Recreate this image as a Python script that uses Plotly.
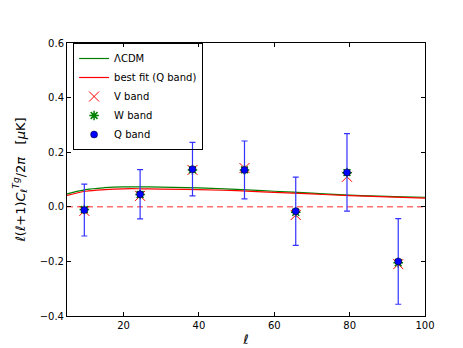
import plotly.graph_objects as go

# multipole bins
ell = [9.6, 24.4, 38.3, 52.1, 65.7, 79.3, 92.9]
q_band = [-0.012, 0.046, 0.138, 0.135, -0.016, 0.126, -0.200]
q_err = [0.095, 0.090, 0.098, 0.106, 0.125, 0.142, 0.157]
v_band = [-0.015, 0.040, 0.135, 0.142, -0.030, 0.110, -0.210]
w_band = [-0.010, 0.045, 0.135, 0.135, -0.020, 0.125, -0.205]

# theory curves
ell_curve = [5, 10, 15, 20, 25, 30, 40, 50, 60, 70, 80, 90, 100]
lcdm = [0.047, 0.063, 0.070, 0.073, 0.073, 0.072, 0.069, 0.064, 0.057, 0.050, 0.043, 0.038, 0.035]
best_fit = [0.042, 0.057, 0.063, 0.066, 0.066, 0.065, 0.063, 0.059, 0.053, 0.047, 0.041, 0.036, 0.032]

fig = go.Figure()

fig.add_trace(go.Scatter(x=ell_curve, y=lcdm, mode='lines', name='\u039bCDM',
                         line=dict(color='#008000', width=1.2, shape='spline')))
fig.add_trace(go.Scatter(x=ell_curve, y=best_fit, mode='lines', name='best fit (Q band)',
                         line=dict(color='#ff0000', width=1.2, shape='spline')))
# zero line
fig.add_trace(go.Scatter(x=[5, 100], y=[0, 0], mode='lines', showlegend=False,
                         line=dict(color='rgba(255,90,90,0.85)', width=1.5, dash='6px,4px')))

fig.add_trace(go.Scatter(x=ell, y=v_band, mode='markers', name='V band',
                         marker=dict(symbol='x-thin', size=10, color='#ff0000',
                                     line=dict(color='#ff0000', width=1))))
fig.add_trace(go.Scatter(x=ell, y=w_band, mode='markers', name='W band',
                         marker=dict(symbol='asterisk', size=8, color='#008000',
                                     line=dict(color='#008000', width=1.5))))
fig.add_trace(go.Scatter(x=ell, y=q_band, mode='markers', name='Q band',
                         error_y=dict(type='data', array=q_err, color='#3333ff',
                                      thickness=1.2, width=3),
                         marker=dict(symbol='circle', size=7, color='#0000ff',
                                     line=dict(color='black', width=0.5))))

axis_style = dict(showline=True, linecolor='black', linewidth=1, mirror='ticks',
                  ticks='inside', ticklen=4, tickcolor='black', showgrid=False,
                  zeroline=False, tickfont=dict(size=10, color='black'))

fig.update_layout(
    template='simple_white',
    width=463, height=348,
    margin=dict(l=57, r=46, t=35, b=35),
    font=dict(family='DejaVu Sans', color='black'),
    xaxis=dict(range=[5, 100], tickvals=[20, 40, 60, 80, 100],
               title=dict(text='<i>\u2113</i>', font=dict(size=13), standoff=4),
               **axis_style),
    yaxis=dict(range=[-0.4, 0.6], tickvals=[-0.4, -0.2, 0.0, 0.2, 0.4, 0.6],
               ticktext=['\u22120.4', '\u22120.2', '0.0', '0.2', '0.4', '0.6'],
               title=dict(text='<i>\u2113</i>(<i>\u2113</i>+1)<i>C</i><sub><i>\u2113</i></sub><sup><i>Tg</i></sup>/2<i>\u03c0</i>   [<i>\u03bc</i>K]',
                          font=dict(size=13), standoff=11),
               **axis_style),
    # transparent box so the error bar under its corner stays visible
    legend=dict(x=0.017, y=1.0, xanchor='left', yanchor='top',
                bordercolor='black', borderwidth=1, bgcolor='rgba(255,255,255,0)',
                font=dict(size=10), tracegroupgap=0, itemwidth=30),
    showlegend=True,
)

fig.write_html("out.html")
